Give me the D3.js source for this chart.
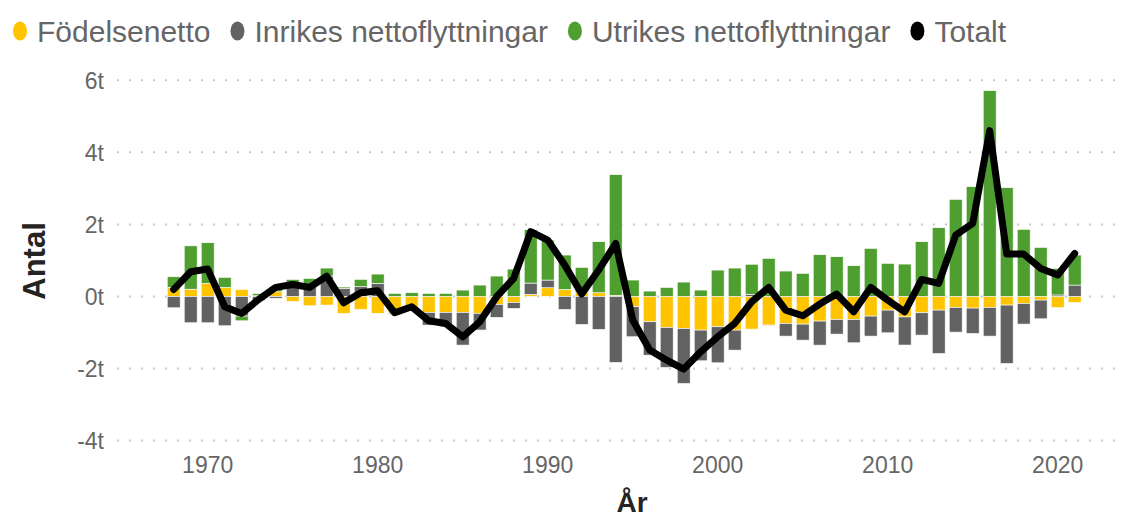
<!DOCTYPE html>
<html>
<head>
<meta charset="utf-8">
<script src="https://cdn.jsdelivr.net/npm/d3@7"></script>
<style>
  body { margin: 0; background: #fff; }
  svg text { font-family: "Liberation Sans", Arial, sans-serif; }
</style>
</head>
<body>
<svg id="chart" width="1126" height="520"></svg>
<script>
// År
const years = d3.range(1968, 2022);

// Födelsenetto
const fodelsenetto = [250, 200, 360, 250, 190, 20, 130, -140, -260, -240,
  -470, -360, -470, -470, -400, -444, -444, -444, -470, -222,
  -167, 56, 241, 194, 102, 102, 30, -287, -704, -861,
  -889, -935, -843, -935, -907, -796, -750, -769, -685, -639,
  -639, -546, -380, -570, -454, -380, -306, -324, -306, -241,
  -194, -102, -310, -167];

// Inrikes nettoflyttningar
const inrikes = [-315, -731, -731, -815, -546, -110, -50, 300, 300, 565,
  220, 269, 361, -30, 0, -352, -398, -907, -463, -361,
  -167, 315, 213, -361, -778, -917, -1833, -833, -926, -1111,
  -1528, -852, -1000, -556, 60, -10, -352, -444, -667, -407,
  -648, -556, -630, -780, -620, -1204, -685, -704, -796, -1620,
  -574, -519, 40, 315];

// Utrikes nettoflyttningar
const utrikes = [296, 1204, 1130, 278, -130, 60, 150, 170, 200, 222,
  40, 204, 259, 83, 102, 83, 83, 176, 315, 565,
  759, 1481, 1111, 954, 704, 1417, 3352, 454, 148, 250,
  398, 176, 731, 787, 833, 1056, 704, 639, 1157, 1102,
  852, 1333, 917, 898, 1519, 1907, 2694, 3046, 5713, 3019,
  1861, 1361, 740, 833];

// Totalt
const totalt = [194, 685, 759, -287, -472, -83, 250, 330, 250, 565,
  -176, 102, 157, -454, -287, -676, -750, -1120, -704, -9,
  500, 1796, 1565, 870, 65, 731, 1472, -657, -1490, -1770,
  -2019, -1537, -1120, -750, -148, 250, -380, -537, -213, 65,
  -426, 250, -102, -426, 472, 361, 1704, 2028, 4602, 1176,
  1176, 778, 593, 1194];

const yTicks = [-4000, -2000, 0, 2000, 4000, 6000];
const xTicks = [1970, 1980, 1990, 2000, 2010, 2020];

const seriesKeys = ["Födelsenetto", "Inrikes nettoflyttningar", "Utrikes nettoflyttningar"];
const colors = {
  "Födelsenetto": "#FFC400",
  "Inrikes nettoflyttningar": "#626262",
  "Utrikes nettoflyttningar": "#4E9E30",
  "Totalt": "#000000"
};

const svg = d3.select("#chart");

// tabell för stapling
const rows = years.map((y, i) => ({
  year: y,
  "Födelsenetto": fodelsenetto[i],
  "Inrikes nettoflyttningar": inrikes[i],
  "Utrikes nettoflyttningar": utrikes[i],
  total: totalt[i]
}));

const x = d3.scaleBand()
  .domain(years)
  .range([165.2, 1083.2])
  .paddingInner(0.24)
  .paddingOuter(0.12);

const y = d3.scaleLinear()
  .domain([-4000, 6000])
  .range([440.5, 80.3]);

// rutnät
svg.append("g")
  .selectAll("line")
  .data(yTicks)
  .enter()
  .append("line")
  .attr("x1", 117)
  .attr("x2", 1120)
  .attr("y1", d => y(d))
  .attr("y2", d => y(d))
  .attr("stroke", "#c8c8c8")
  .attr("stroke-width", 2)
  .attr("stroke-dasharray", "2,10");

// y-axel
const axisY = d3.axisLeft(y)
  .tickValues(yTicks)
  .tickSize(0)
  .tickPadding(0)
  .tickFormat(d => (d / 1000) + "t");

const gy = svg.append("g")
  .attr("transform", "translate(104,0)")
  .call(axisY);
gy.select(".domain").remove();
gy.selectAll("text")
  .attr("fill", "#666")
  .style("font-size", "23px")
  .attr("dy", "0.35em");

// x-axel
const axisX = d3.axisBottom(x)
  .tickValues(xTicks)
  .tickSize(0)
  .tickPadding(0);

const gx = svg.append("g")
  .attr("transform", "translate(0,457)")
  .call(axisX);
gx.select(".domain").remove();
gx.selectAll("text")
  .attr("fill", "#666")
  .style("font-size", "23px")
  .attr("dy", "0.7em");

// staplar
const stack = d3.stack()
  .keys(seriesKeys)
  .offset(d3.stackOffsetDiverging);

const stacked = stack(rows);

svg.append("g")
  .selectAll("g")
  .data(stacked)
  .enter()
  .append("g")
  .attr("fill", d => colors[d.key])
  .selectAll("rect")
  .data(d => d)
  .enter()
  .append("rect")
  .attr("x", d => x(d.data.year))
  .attr("width", x.bandwidth())
  .attr("y", d => y(Math.max(d[0], d[1])))
  .attr("height", d => Math.abs(y(d[0]) - y(d[1])))
  .attr("stroke", "#fff")
  .attr("stroke-width", 0.6);

// linje Totalt
const line = d3.line()
  .x(d => x(d.year) + x.bandwidth() / 2)
  .y(d => y(d.total));

svg.append("path")
  .datum(rows)
  .attr("d", line)
  .attr("fill", "none")
  .attr("stroke", colors["Totalt"])
  .attr("stroke-width", 7)
  .attr("stroke-linejoin", "round")
  .attr("stroke-linecap", "round");

// axeltitlar
svg.append("text")
  .attr("transform", "translate(45,261) rotate(-90)")
  .attr("text-anchor", "middle")
  .attr("fill", "#252423")
  .style("font-size", "31px")
  .style("font-weight", "bold")
  .text("Antal");

svg.append("text")
  .attr("x", 632)
  .attr("y", 512)
  .attr("text-anchor", "middle")
  .attr("fill", "#252423")
  .style("font-size", "28px")
  .style("font-weight", "bold")
  .text("År");

// legend
const legendItems = ["Födelsenetto", "Inrikes nettoflyttningar", "Utrikes nettoflyttningar", "Totalt"];
const legend = svg.append("g").attr("transform", "translate(20,31)");
let lx = 0;
legendItems.forEach(name => {
  const item = legend.append("g").attr("transform", `translate(${lx},0)`);
  item.append("ellipse")
    .attr("cx", 0)
    .attr("cy", 0)
    .attr("rx", 7)
    .attr("ry", 9.5)
    .attr("fill", colors[name]);
  const t = item.append("text")
    .attr("x", 17)
    .attr("y", 0)
    .attr("dy", "0.35em")
    .attr("fill", "#666")
    .style("font-size", "30px")
    .text(name);
  lx += 17 + t.node().getComputedTextLength() + 27;
});
</script>
</body>
</html>
